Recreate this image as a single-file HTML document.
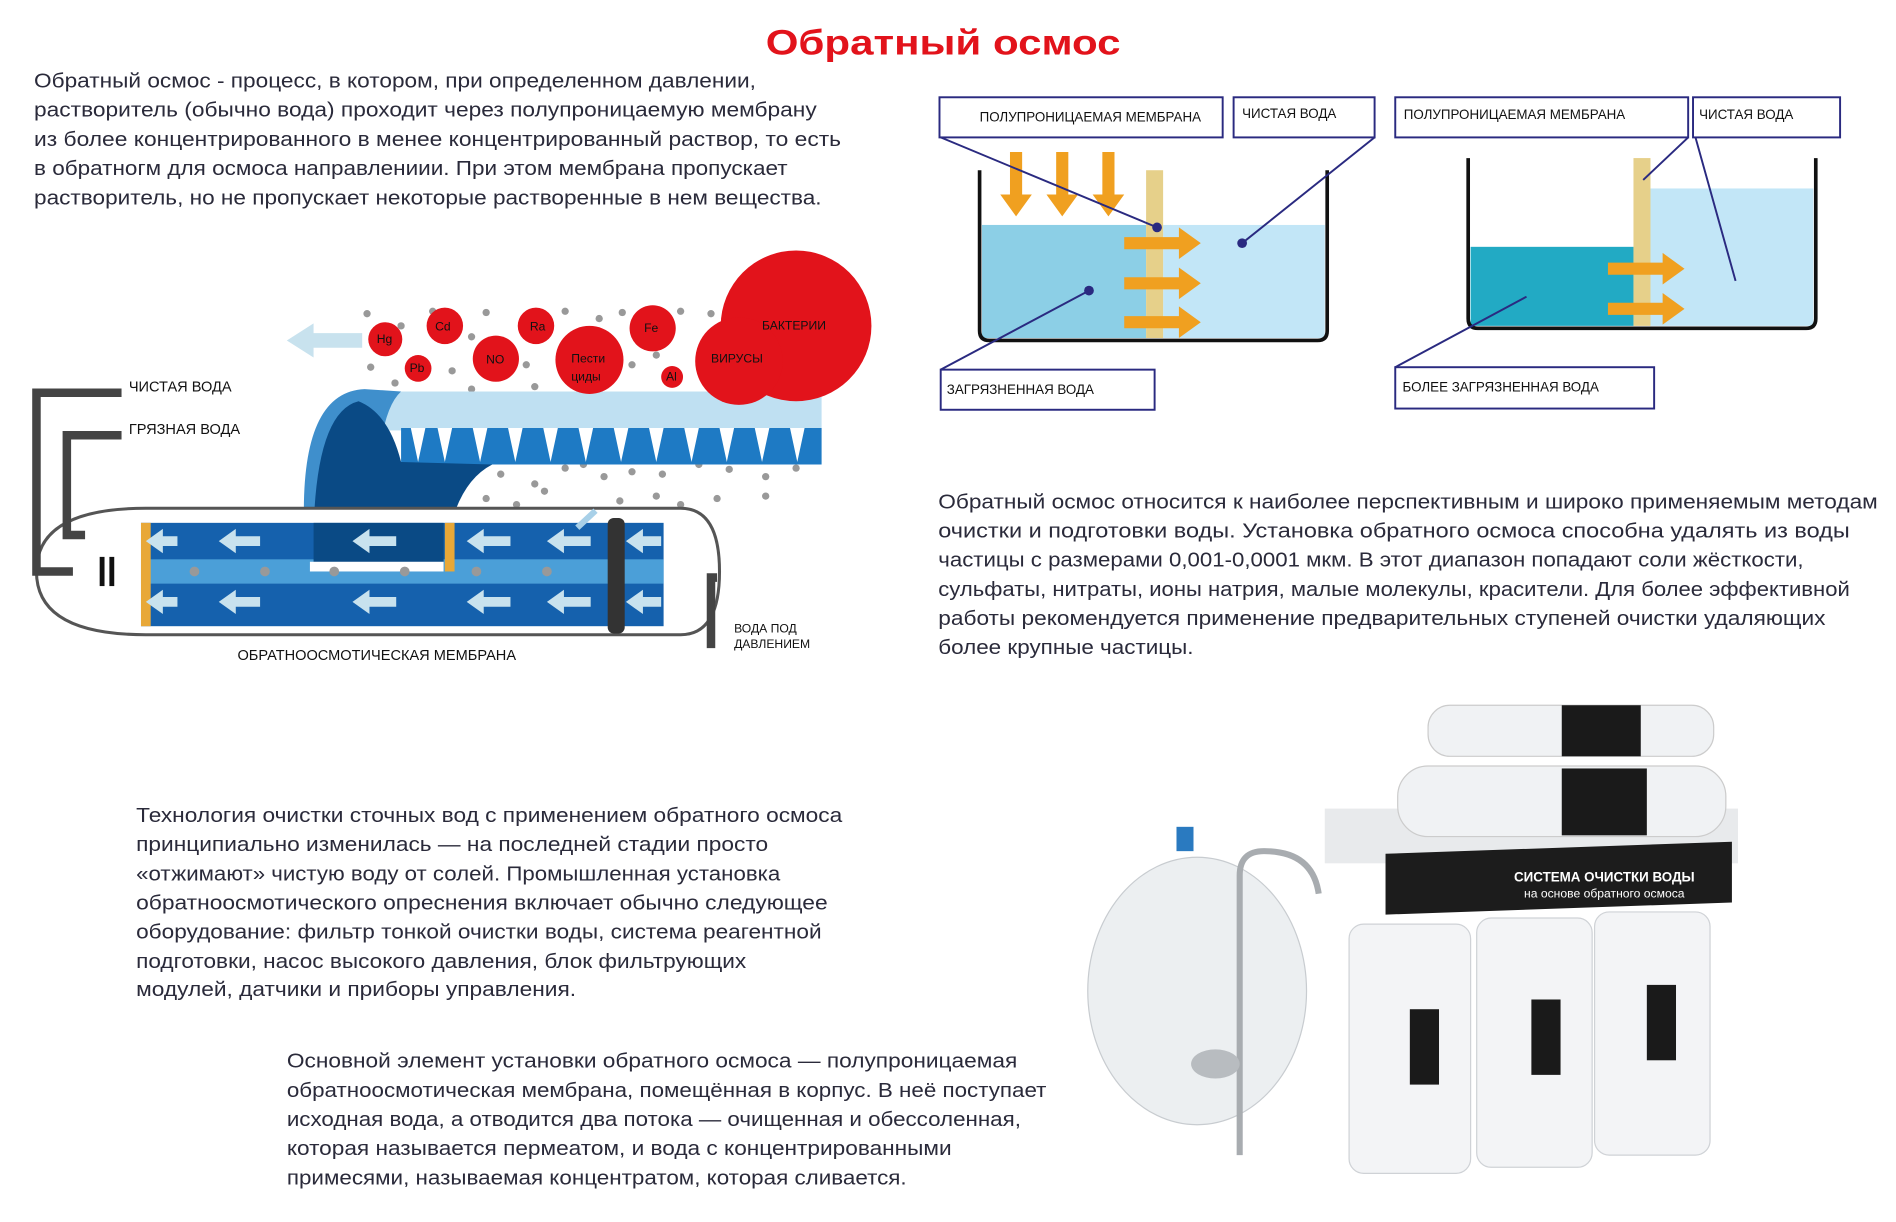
<!DOCTYPE html>
<html><head><meta charset="utf-8"><style>
html,body{margin:0;padding:0;background:#fff;width:1896px;height:1222px;overflow:hidden}
#w{width:1560px;height:1005px;transform:scale(1.21538,1.21592);transform-origin:0 0}
svg text{font-family:"Liberation Sans",sans-serif}
.p{font-size:17px;fill:#2a2a3a}
.l{font-size:11px;fill:#111}
.d{font-size:12px;fill:#111}
</style></head><body><div id="w">
<svg width="1560" height="1005" viewBox="0 0 1560 1005" xmlns="http://www.w3.org/2000/svg">
<text x="776" y="45" text-anchor="middle" style="font-size:29px;font-weight:bold;fill:#e2131b" textLength="292" lengthAdjust="spacingAndGlyphs">Обратный осмос</text>
<g class="p">
<text x="28" y="72" textLength="594" lengthAdjust="spacingAndGlyphs">Обратный осмос - процесс, в котором, при определенном давлении,</text>
<text x="28" y="96" textLength="644" lengthAdjust="spacingAndGlyphs">растворитель (обычно вода) проходит через полупроницаемую мембрану</text>
<text x="28" y="120" textLength="664" lengthAdjust="spacingAndGlyphs">из более концентрированного в менее концентрированный раствор, то есть</text>
<text x="28" y="144" textLength="620" lengthAdjust="spacingAndGlyphs">в обратногм для осмоса направлениии. При этом мембрана пропускает</text>
<text x="28" y="168" textLength="648" lengthAdjust="spacingAndGlyphs">растворитель, но не пропускает некоторые растворенные в нем вещества.</text>
<text x="772" y="418" textLength="773" lengthAdjust="spacingAndGlyphs">Обратный осмос относится к наиболее перспективным и широко применяемым методам</text>
<text x="772" y="442" textLength="750" lengthAdjust="spacingAndGlyphs">очистки и подготовки воды. Установка обратного осмоса способна удалять из воды</text>
<text x="772" y="466" textLength="712" lengthAdjust="spacingAndGlyphs">частицы с размерами 0,001-0,0001 мкм. В этот диапазон попадают соли жёсткости,</text>
<text x="772" y="490" textLength="750" lengthAdjust="spacingAndGlyphs">сульфаты, нитраты, ионы натрия, малые молекулы, красители. Для более эффективной</text>
<text x="772" y="514" textLength="730" lengthAdjust="spacingAndGlyphs">работы рекомендуется применение предварительных ступеней очистки удаляющих</text>
<text x="772" y="538" textLength="210" lengthAdjust="spacingAndGlyphs">более крупные частицы.</text>
<text x="112" y="676" textLength="581" lengthAdjust="spacingAndGlyphs">Технология очистки сточных вод с применением обратного осмоса</text>
<text x="112" y="700" textLength="520" lengthAdjust="spacingAndGlyphs">принципиально изменилась — на последней стадии просто</text>
<text x="112" y="724" textLength="530" lengthAdjust="spacingAndGlyphs">«отжимают» чистую воду от солей. Промышленная установка</text>
<text x="112" y="748" textLength="569" lengthAdjust="spacingAndGlyphs">обратноосмотического опреснения включает обычно следующее</text>
<text x="112" y="772" textLength="564" lengthAdjust="spacingAndGlyphs">оборудование: фильтр тонкой очистки воды, система реагентной</text>
<text x="112" y="796" textLength="502" lengthAdjust="spacingAndGlyphs">подготовки, насос высокого давления, блок фильтрующих</text>
<text x="112" y="819" textLength="362" lengthAdjust="spacingAndGlyphs">модулей, датчики и приборы управления.</text>
<text x="236" y="878" textLength="601" lengthAdjust="spacingAndGlyphs">Основной элемент установки обратного осмоса — полупроницаемая</text>
<text x="236" y="902" textLength="625" lengthAdjust="spacingAndGlyphs">обратноосмотическая мембрана, помещённая в корпус. В неё поступает</text>
<text x="236" y="926" textLength="604" lengthAdjust="spacingAndGlyphs">исходная вода, а отводится два потока — очищенная и обессоленная,</text>
<text x="236" y="950" textLength="547" lengthAdjust="spacingAndGlyphs">которая называется пермеатом, и вода с концентрированными</text>
<text x="236" y="974" textLength="510" lengthAdjust="spacingAndGlyphs">примесями, называемая концентратом, которая сливается.</text>
</g>

<!-- beaker 1 -->
<rect x="808" y="185" width="135" height="93" fill="#8ccfe6"/>
<rect x="957" y="185" width="133" height="93" fill="#c2e6f7"/>
<rect x="943" y="140" width="14" height="138" fill="#e6d08a"/>
<path d="M806 140 V272 Q806 280 814 280 H1084 Q1092 280 1092 272 V140" fill="none" stroke="#111" stroke-width="3"/>
<g fill="#f0a020">
<path d="M831 125h10v35h8l-13 18-13-18h8z"/><path d="M869 125h10v35h8l-13 18-13-18h8z"/><path d="M907 125h10v35h8l-13 18-13-18h8z"/>
<path d="M925 195h45v-8l18 13-18 13v-8h-45z"/><path d="M925 228h45v-8l18 13-18 13v-8h-45z"/><path d="M925 260h45v-8l18 13-18 13v-8h-45z"/>
</g>
<g fill="none" stroke="#2a2a80" stroke-width="1.6">
<rect x="773" y="80" width="233" height="33" fill="#fff"/><rect x="1015" y="80" width="116" height="33" fill="#fff"/><rect x="774" y="304" width="176" height="33" fill="#fff"/>
<path d="M774 113 L952 187 M1131 113 L1022 200 M774 304 L896 239"/>
<rect x="1148" y="80" width="241" height="33" fill="#fff"/><rect x="1393" y="80" width="121" height="33" fill="#fff"/><rect x="1148" y="302" width="213" height="34" fill="#fff"/>
</g>
<g fill="#2a2a80"><circle cx="952" cy="187" r="4"/><circle cx="1022" cy="200" r="4"/><circle cx="896" cy="239" r="4"/><circle cx="1256" cy="244" r="4"/><circle cx="1428" cy="231" r="4"/></g>
<g class="l"><text x="806" y="100">ПОЛУПРОНИЦАЕМАЯ МЕМБРАНА</text><text x="1022" y="97">ЧИСТАЯ ВОДА</text><text x="779" y="324">ЗАГРЯЗНЕННАЯ ВОДА</text>
<text x="1155" y="98">ПОЛУПРОНИЦАЕМАЯ МЕМБРАНА</text><text x="1398" y="98">ЧИСТАЯ ВОДА</text><text x="1154" y="322">БОЛЕЕ ЗАГРЯЗНЕННАЯ ВОДА</text></g>
<!-- beaker 2 -->
<rect x="1210" y="203" width="134" height="65" fill="#22aac4"/>
<rect x="1358" y="155" width="134" height="113" fill="#c2e6f7"/>
<rect x="1344" y="130" width="14" height="138" fill="#e6d08a"/>
<path d="M1208 130 V262 Q1208 270 1216 270 H1486 Q1494 270 1494 262 V130" fill="none" stroke="#111" stroke-width="3"/>
<g fill="#f0a020"><path d="M1323 216h45v-8l18 13-18 13v-8h-45z"/><path d="M1323 249h45v-8l18 13-18 13v-8h-45z"/></g>
<g fill="none" stroke="#2a2a80" stroke-width="1.6"><path d="M1389 113 L1352 148 M1395 113 L1428 231 M1148 302 L1256 244"/></g>

<!-- left membrane diagram -->
<path d="M236 280 l22 -14 v8 h40 v12 h-40 v8z" fill="#c8e2ee"/>
<g fill="#999">
<circle cx="302" cy="258" r="3"/><circle cx="330" cy="268" r="3"/><circle cx="356" cy="256" r="3"/><circle cx="400" cy="257" r="3"/><circle cx="388" cy="277" r="3"/><circle cx="465" cy="256" r="3"/><circle cx="493" cy="262" r="3"/><circle cx="512" cy="257" r="3"/><circle cx="560" cy="256" r="3"/><circle cx="585" cy="258" r="3"/>
<circle cx="305" cy="302" r="3"/><circle cx="325" cy="315" r="3"/><circle cx="372" cy="305" r="3"/><circle cx="388" cy="320" r="3"/><circle cx="433" cy="300" r="3"/><circle cx="440" cy="318" r="3"/><circle cx="520" cy="300" r="3"/><circle cx="540" cy="292" r="3"/>
<circle cx="350" cy="338" r="3"/><circle cx="374" cy="335" r="3"/><circle cx="400" cy="338" r="3"/><circle cx="430" cy="330" r="3"/><circle cx="488" cy="335" r="3"/><circle cx="510" cy="330" r="3"/><circle cx="522" cy="338" r="3"/><circle cx="550" cy="333" r="3"/><circle cx="578" cy="345" r="3"/><circle cx="600" cy="327" r="3"/><circle cx="620" cy="340" r="3"/><circle cx="636" cy="337" r="3"/>
<circle cx="340" cy="362" r="3"/><circle cx="368" cy="370" r="3"/><circle cx="395" cy="365" r="3"/><circle cx="430" cy="372" r="3"/><circle cx="468" cy="368" r="3"/><circle cx="503" cy="362" r="3"/><circle cx="540" cy="370" r="3"/><circle cx="580" cy="365" r="3"/><circle cx="612" cy="362" r="3"/><circle cx="655" cy="370" r="3"/>
<circle cx="412" cy="390" r="3"/><circle cx="440" cy="398" r="3"/><circle cx="465" cy="385" r="3"/><circle cx="480" cy="382" r="3"/><circle cx="497" cy="392" r="3"/><circle cx="520" cy="388" r="3"/><circle cx="545" cy="390" r="3"/><circle cx="575" cy="382" r="3"/><circle cx="600" cy="386" r="3"/><circle cx="630" cy="392" r="3"/><circle cx="655" cy="385" r="3"/>
<circle cx="400" cy="410" r="3"/><circle cx="425" cy="415" r="3"/><circle cx="448" cy="404" r="3"/><circle cx="510" cy="412" r="3"/><circle cx="540" cy="408" r="3"/><circle cx="560" cy="415" r="3"/><circle cx="590" cy="410" r="3"/><circle cx="630" cy="408" r="3"/><circle cx="450" cy="430" r="3"/>
</g>
<rect x="300" y="322" width="376" height="32" fill="#bfe0f2"/>
<g fill="#1e7ac4"><path d="M330 352h346v30h-346z"/></g>
<g fill="#fff">
<path d="M338 352l6 28 6-28z M360 352l6 28 6-28z M389 352l6 28 6-28z M418 352l6 28 6-28z M447 352l6 28 6-28z M476 352l6 28 6-28z M505 352l6 28 6-28z M534 352l6 28 6-28z M563 352l6 28 6-28z M592 352l6 28 6-28z M621 352l6 28 6-28z M650 352l6 28 6-28z"/>
</g>
<path d="M250 420 Q250 322 300 320 L330 322 Q310 340 310 420z" fill="#3f8fcc"/>
<path d="M258 470 Q255 340 295 330 Q320 340 330 380 L405 382 Q370 400 365 470z" fill="#0a4a85"/>
<!-- red circles -->
<g fill="#e2131b"><circle cx="655" cy="268" r="62"/><circle cx="608" cy="297" r="36"/><circle cx="317" cy="279" r="14"/><circle cx="366" cy="268" r="15"/><circle cx="344" cy="303" r="11"/><circle cx="441" cy="268" r="15"/><circle cx="408" cy="295" r="19"/><circle cx="485" cy="296" r="28"/><circle cx="537" cy="270" r="19"/><circle cx="553" cy="310" r="9"/></g>
<g class="l" style="font-size:10px;fill:#111"><text x="310" y="282">Hg</text><text x="358" y="272">Cd</text><text x="337" y="306">Pb</text><text x="436" y="272">Ra</text><text x="400" y="299">NO</text><text x="470" y="298">Пести</text><text x="470" y="313">циды</text><text x="530" y="273">Fe</text><text x="548" y="313">Al</text><text x="627" y="271">БАКТЕРИИ</text><text x="585" y="298">ВИРУСЫ</text></g>
<!-- tube -->
<path d="M120 418 H560 Q592 418 592 470 Q592 522 560 522 H120 Q30 522 30 470 Q30 418 120 418z" fill="#fff" stroke="#555" stroke-width="2.5"/>
<rect x="116" y="430" width="430" height="85" fill="#1561ad"/>
<rect x="116" y="460" width="430" height="20" fill="#4b9fd8"/>
<path d="M258 430 H365 V470 H258z" fill="#0a4a85"/>
<rect x="255" y="462" width="110" height="8" fill="#fff"/>
<rect x="116" y="430" width="8" height="85" fill="#e8a838"/><rect x="366" y="430" width="8" height="40" fill="#e8a838"/>
<rect x="500" y="426" width="14" height="95" rx="5" fill="#333"/>
<g fill="#c8e2ee">
<path d="M120 445l14-10v6h12v8h-12v6z M180 445l14-10v6h20v8h-20v6z M290 445l14-10v6h22v8h-22v6z M384 445l14-10v6h22v8h-22v6z M450 445l14-10v6h22v8h-22v6z M515 445l14-10v6h15v8h-15v6z"/>
<path d="M120 495l14-10v6h12v8h-12v6z M180 495l14-10v6h20v8h-20v6z M290 495l14-10v6h22v8h-22v6z M384 495l14-10v6h22v8h-22v6z M450 495l14-10v6h22v8h-22v6z M515 495l14-10v6h15v8h-15v6z"/>
</g>
<path d="M490 420 l-15 14" stroke="#a8d0e8" stroke-width="5"/>
<g fill="#999"><circle cx="160" cy="470" r="4"/><circle cx="218" cy="470" r="4"/><circle cx="275" cy="470" r="4"/><circle cx="333" cy="470" r="4"/><circle cx="392" cy="470" r="4"/><circle cx="450" cy="470" r="4"/></g>
<g fill="none" stroke="#444" stroke-width="7">
<path d="M100 323 H30 V470 H60"/><path d="M100 358 H55 V440 H70"/><path d="M590 475 H585 V533"/>
</g>
<rect x="82" y="458" width="4" height="24" fill="#111"/><rect x="90" y="458" width="4" height="24" fill="#111"/>
<g class="d" style="font-size:12px"><text x="106" y="322">ЧИСТАЯ ВОДА</text><text x="106" y="357">ГРЯЗНАЯ ВОДА</text><text x="310" y="543" text-anchor="middle">ОБРАТНООСМОТИЧЕСКАЯ МЕМБРАНА</text><text x="604" y="520" style="font-size:10px">ВОДА ПОД</text><text x="604" y="533" style="font-size:10px">ДАВЛЕНИЕМ</text></g>

<!-- product photo approximation -->
<ellipse cx="985" cy="815" rx="90" ry="110" fill="#eceff1" stroke="#c8ccd0"/>
<rect x="968" y="680" width="14" height="20" fill="#2a7ac0"/>
<path d="M1020 950 V720 Q1020 700 1040 700 Q1080 700 1085 735" fill="none" stroke="#a8acb0" stroke-width="5"/>
<ellipse cx="1000" cy="875" rx="20" ry="12" fill="#b8bcc0"/>
<rect x="1090" y="665" width="340" height="45" fill="#e8eaec"/>
<rect x="1175" y="580" width="235" height="42" rx="18" fill="#f0f2f4" stroke="#ccc"/>
<rect x="1285" y="580" width="65" height="42" fill="#1a1a1a"/>
<rect x="1150" y="630" width="270" height="58" rx="25" fill="#f0f2f4" stroke="#ccc"/>
<rect x="1285" y="632" width="70" height="55" fill="#1a1a1a"/>
<rect x="1140" y="700" width="285" height="50" fill="#1c1c1c" transform="skewY(-2) translate(0 42)"/>
<text x="1320" y="725" text-anchor="middle" style="font-size:11px;font-weight:bold;fill:#fff">СИСТЕМА ОЧИСТКИ ВОДЫ</text>
<text x="1320" y="738" text-anchor="middle" style="font-size:10px;fill:#fff">на основе обратного осмоса</text>
<g fill="#f3f4f6" stroke="#cfd2d6"><rect x="1110" y="760" width="100" height="205" rx="12"/><rect x="1215" y="755" width="95" height="205" rx="12"/><rect x="1312" y="750" width="95" height="200" rx="12"/></g>
<g fill="#1a1a1a"><rect x="1160" y="830" width="24" height="62"/><rect x="1260" y="822" width="24" height="62"/><rect x="1355" y="810" width="24" height="62"/></g>
</svg></div></body></html>
